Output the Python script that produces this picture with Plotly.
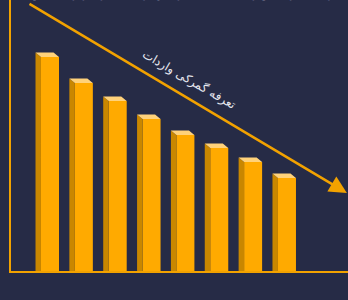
import plotly.graph_objects as go

# ---- data ----
categories = [0, 1, 2, 3, 4, 5, 6, 7]
values = [79.0, 69.4, 62.7, 56.1, 50.2, 45.4, 40.2, 34.3]
arrow_label = "تعرفه گمرکی واردات"
top_text = "کاهش تعرفه گمرکی واردات باعث افزایش رقابت در بازار می‌شود"

# ---- style ----
BG = "#262b46"
FRONT = "#ffaa00"
SIDE = "#c98700"
TOP = "#ffd27a"
LINE = "#f2a200"

bar_w = 0.532
dx, dy = -0.162, 1.66

side_x, side_y, top_x, top_y = [], [], [], []
for c, v in zip(categories, values):
    xl = c - bar_w / 2
    xr = c + bar_w / 2
    side_x += [xl, xl, xl + dx, xl + dx, xl, None]
    side_y += [0, v, v + dy, 0, 0, None]
    top_x += [xl, xr, xr + dx, xl + dx, xl, None]
    top_y += [v, v, v + dy, v + dy, v, None]

fig = go.Figure()
fig.add_trace(go.Scatter(x=side_x, y=side_y, fill="toself", fillcolor=SIDE,
                         mode="lines", line=dict(width=0, color=SIDE),
                         hoverinfo="skip", showlegend=False))
fig.add_trace(go.Scatter(x=top_x, y=top_y, fill="toself", fillcolor=TOP,
                         mode="lines", line=dict(width=0, color=TOP),
                         hoverinfo="skip", showlegend=False))
fig.add_trace(go.Bar(x=categories, y=values, width=bar_w,
                     marker=dict(color=FRONT, line=dict(width=0)),
                     showlegend=False))

fig.add_annotation(x=8.77, y=28.8, ax=-0.65, ay=98.9,
                   xref="x", yref="y", axref="x", ayref="y",
                   text="", showarrow=True, arrowhead=2, arrowsize=1.4,
                   arrowwidth=2.5, arrowcolor=LINE)
fig.add_annotation(x=4.08, y=70.5, xref="x", yref="y", text=arrow_label,
                   showarrow=False, textangle=30,
                   font=dict(family="DejaVu Sans", size=12, color="#e6e7ef"))
fig.add_annotation(x=0.58, y=1, xref="paper", yref="paper", yanchor="bottom",
                   yshift=-3, text=top_text, showarrow=False,
                   font=dict(family="DejaVu Sans", size=13, color="#d8d9e2"))

fig.update_layout(
    width=348, height=300,
    margin=dict(l=11, r=0, t=0, b=29),
    paper_bgcolor=BG, plot_bgcolor=BG,
    xaxis=dict(range=[-1.152, 8.803], showgrid=False, zeroline=False,
               showticklabels=False, ticks="", showline=True,
               linecolor=LINE, linewidth=2),
    yaxis=dict(range=[0, 100], showgrid=False, zeroline=False,
               showticklabels=False, ticks="", showline=True,
               linecolor=LINE, linewidth=2),
)

fig.write_html("out.html", config={"displayModeBar": False},
               post_script="document.body.style.margin='0';"
                           "document.body.style.background='#262b46';")
